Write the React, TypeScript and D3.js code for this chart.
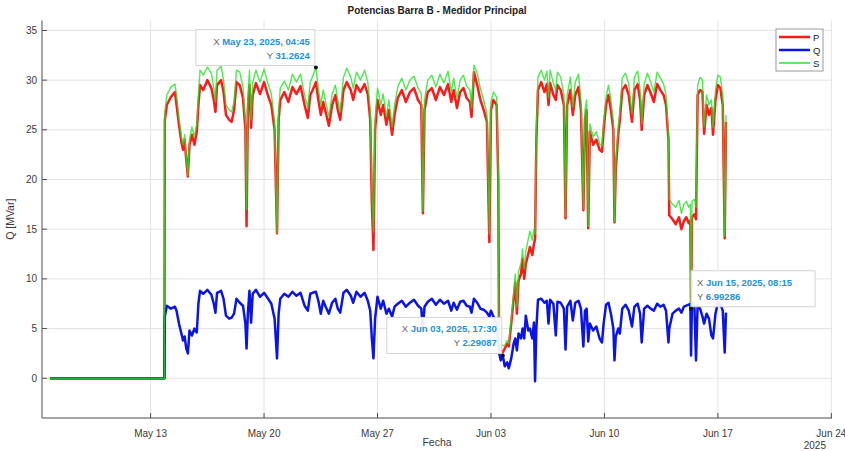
import React from "react";
import * as d3 from "d3";

// Time in days of May 2025 (Jun 1 = 32), values in MW / MVar / MVA
const times = [
  6.8, 13.85, 13.88, 14.0, 14.25, 14.5, 14.6, 14.75, 14.9, 15.0, 15.1, 15.2, 15.3, 15.4, 15.55, 15.7, 15.85, 15.95,
  16.05, 16.25, 16.5, 16.75, 16.9, 17.0, 17.1, 17.35, 17.5, 17.65, 17.85, 18.0, 18.15, 18.3, 18.5, 18.7, 18.85, 18.92,
  19.0, 19.1, 19.2, 19.3, 19.5, 19.75, 20.0, 20.25, 20.45, 20.65, 20.8, 20.9, 21.0, 21.25, 21.5, 21.75, 22.0, 22.25,
  22.5, 22.7, 22.85, 23.0, 23.198, 23.35, 23.5, 23.65, 23.8, 24.0, 24.2, 24.4, 24.55, 24.7, 24.9, 25.1, 25.35, 25.5,
  25.7, 25.95, 26.2, 26.4, 26.55, 26.65, 26.75, 26.85, 27.0, 27.2, 27.35, 27.55, 27.7, 27.9, 28.05, 28.25, 28.5, 28.75,
  29.0, 29.25, 29.5, 29.7, 29.8, 29.9, 30.1, 30.35, 30.6, 30.85, 31.1, 31.35, 31.55, 31.7, 31.9, 32.1, 32.3, 32.5,
  32.7, 32.8, 32.95, 33.15, 33.35, 33.55, 33.75, 33.9, 34.0, 34.15, 34.35, 34.45, 34.5, 34.6, 34.729, 34.85, 35.0, 35.1,
  35.25, 35.4, 35.5, 35.6, 35.7, 35.85, 35.95, 36.05, 36.15, 36.3, 36.4, 36.55, 36.65, 36.72, 36.8, 36.9, 37.1, 37.3,
  37.45, 37.55, 37.65, 37.85, 38.0, 38.1, 38.3, 38.5, 38.6, 38.7, 38.9, 39.05, 39.2, 39.4, 39.55, 39.7, 39.8, 39.9,
  40.0, 40.1, 40.3, 40.5, 40.7, 40.85, 40.95, 41.1, 41.25, 41.4, 41.55, 41.62, 41.7, 41.85, 41.95, 42.1, 42.3, 42.5,
  42.7, 42.85, 43.05, 43.2, 43.3, 43.45, 43.65, 43.85, 44.05, 44.25, 44.45, 44.65, 44.8, 44.95, 45.0, 45.2, 45.4, 45.6,
  45.75, 45.9, 46.05, 46.2, 46.3, 46.344, 46.4, 46.55, 46.65, 46.75, 46.9, 47.05, 47.15, 47.3, 47.45, 47.6, 47.7, 47.85,
  48.0, 48.15, 48.3, 48.42, 48.5,
];

const pValues = [
  0, 0, 26.0, 27.5, 28.3, 28.8, 27.5, 25.5, 23.8, 23.0, 24.0, 22.0, 20.3, 23.5, 24.5, 23.5, 24.8, 27.5,
  29.5, 29.0, 30.0, 29.2, 28.0, 26.8, 29.5, 30.0, 28.8, 26.5, 26.0, 25.8, 27.0, 29.8, 29.5, 28.2, 25.0, 15.3,
  27.0, 29.5, 25.2, 28.5, 29.7, 28.6, 29.8, 28.4, 27.5, 25.0, 14.6, 26.0, 28.0, 28.8, 27.8, 29.3, 28.6, 29.4,
  27.5, 26.2, 28.5, 29.0, 29.8, 28.0, 26.5, 27.8, 26.8, 25.4, 27.5, 28.5, 27.0, 26.0, 29.0, 29.8, 29.0, 28.0,
  29.5, 28.8, 29.6, 28.6, 26.0, 17.7, 12.9, 25.0, 28.0, 26.5, 27.5, 25.5, 27.0, 24.5, 26.5, 28.2, 29.0, 27.8,
  28.8, 29.2, 28.0, 27.5, 16.6, 27.0, 28.8, 29.2, 28.0, 29.3, 28.5, 29.6, 27.8, 29.0, 27.2, 28.8, 29.2, 28.2,
  27.8, 26.3, 30.8, 29.5, 28.0, 27.0, 25.8, 13.7, 27.0, 28.0, 27.5, 20.0, 3.3, 2.8, 2.6, 3.0, 3.5, 3.2,
  5.5, 8.0, 9.6, 6.5, 9.8, 10.5, 12.0, 10.0, 11.5, 12.5, 13.2, 12.4, 13.5, 14.0, 24.0, 29.0, 29.8, 28.8,
  29.6, 27.5, 29.7, 28.5, 28.0, 29.5, 29.0, 27.5, 16.1, 27.5, 29.0, 26.5, 28.5, 29.3, 27.0, 16.9, 26.0, 27.0,
  15.1, 24.8, 23.5, 24.0, 23.0, 22.8, 25.0, 27.5, 28.5, 27.0, 25.0, 15.7, 21.0, 24.5, 26.0, 29.0, 29.5, 28.5,
  25.8, 29.0, 29.6, 28.0, 25.0, 28.5, 29.5, 28.7, 27.8, 29.6, 29.0, 28.5, 27.5, 24.0, 16.4, 16.0, 15.5, 16.2,
  15.0, 15.8, 16.2, 15.6, 15.9, 7.0, 16.2, 16.5, 16.0, 28.5, 29.0, 28.8, 24.6, 27.5, 26.5, 27.2, 24.5, 28.0,
  29.5, 29.2, 27.5, 14.1, 25.8,
];

const qValues = [
  0, 0, 6.2, 7.3, 7.0, 7.2, 6.8, 5.5, 4.5, 3.8, 4.2, 3.0, 2.5, 4.8, 4.3, 5.0, 4.6, 7.5,
  8.8, 8.5, 8.9, 8.4, 7.5, 6.6, 8.6, 8.8, 8.0, 6.3, 6.0, 6.1, 6.5, 8.0, 7.6, 7.3, 5.5, 3.0,
  6.5, 8.8, 5.6, 8.5, 8.9, 8.2, 8.6, 8.0, 7.5, 6.0, 2.0, 6.5, 8.0, 8.5, 8.2, 8.7, 8.3, 8.6,
  7.3, 6.8, 8.5, 8.6, 8.7, 7.8, 6.5, 7.8, 7.2, 6.5, 7.6, 8.0, 7.0, 6.6, 8.6, 8.9, 8.3, 7.6,
  8.7, 8.2, 8.6, 7.8, 6.8, 4.0, 2.0, 6.0, 8.2, 7.0, 7.8, 6.5, 7.0, 6.2, 7.2, 7.5, 7.8, 7.2,
  7.6, 7.9, 7.3, 7.0, 5.0, 7.2, 7.7, 8.0, 7.4, 7.9, 7.5, 7.8, 6.8, 7.6, 6.9, 7.7, 7.8, 7.3,
  7.2, 6.6, 8.0, 7.6, 7.0, 6.9, 6.6, 6.2, 6.8, 6.2, 5.5, 3.5, 2.6, 1.8, 2.29087, 1.2, 1.6, 1.0,
  2.0, 3.5, 4.0, 2.8, 4.5, 4.0, 5.0, 4.0, 6.3, 4.8, 5.0, 4.0, 5.6, -0.3, 5.0, 7.9, 8.0, 7.6,
  7.8, 5.5, 7.9, 7.5, 4.3, 7.7, 7.6, 7.0, 2.9, 7.2, 7.8, 5.8, 7.6, 7.8, 7.0, 3.2, 6.8, 7.0,
  3.7, 5.5, 4.8, 5.2, 4.0, 3.6, 5.5, 7.4, 7.6, 6.5, 5.0, 1.8, 4.2, 5.0, 4.5, 7.0, 7.4, 6.8,
  5.2, 7.2, 7.5, 6.5, 3.6, 7.0, 7.3, 7.0, 6.8, 7.5, 7.2, 7.4, 6.8, 3.6, 5.0, 6.5, 6.8, 7.0,
  6.6, 7.2, 7.3, 7.4, 7.5, 2.3, 7.6, 7.3, 1.8, 7.4, 7.0, 6.2, 5.5, 6.5, 6.0, 4.3, 4.0, 6.5,
  7.6, 7.5, 6.8, 2.6, 6.6,
];

const sValues = [
  0, 0, 26.8, 28.5, 29.3, 29.6, 28.5, 26.2, 24.3, 23.5, 24.5, 22.3, 20.4, 24.0, 25.3, 24.3, 25.6, 28.5,
  31.0, 30.5, 31.3, 30.7, 29.2, 27.8, 31.0, 31.4, 30.0, 27.5, 27.0, 26.8, 27.8, 31.0, 30.8, 29.3, 25.8, 17.0,
  28.0, 31.0, 26.0, 29.8, 31.0, 29.8, 31.1, 29.6, 28.6, 25.8, 14.6, 27.0, 29.2, 29.9, 29.0, 30.6, 29.8, 30.6,
  28.5, 27.2, 29.8, 30.4, 31.2624, 29.2, 27.5, 29.0, 27.8, 26.3, 28.6, 29.5, 28.0, 26.8, 30.3, 31.2, 30.3, 29.2,
  30.8, 30.0, 31.0, 29.8, 27.0, 19.0, 14.7, 26.0, 29.2, 27.5, 28.6, 26.3, 28.0, 25.3, 27.5, 29.3, 30.2, 29.0,
  30.0, 30.4, 29.2, 28.6, 16.8, 28.0, 30.0, 30.5, 29.3, 30.6, 29.7, 30.9, 28.8, 30.2, 28.2, 30.0, 30.5, 29.4,
  29.0, 27.2, 31.5, 30.7, 29.1, 28.0, 26.6, 14.5, 27.8, 28.8, 28.3, 20.5, 3.8, 3.4, 3.3, 3.3, 3.8, 3.5,
  6.0, 8.6, 10.5, 7.2, 10.8, 11.5, 13.0, 11.0, 12.8, 14.0, 14.8, 13.9, 15.0, 14.5, 25.0, 30.3, 31.0, 30.0,
  30.9, 28.3, 31.0, 29.7, 29.0, 30.8, 30.3, 28.5, 16.3, 28.5, 30.3, 27.3, 29.8, 30.6, 28.0, 17.0, 27.0, 28.0,
  15.3, 25.6, 24.3, 24.8, 23.6, 23.4, 25.8, 28.3, 29.5, 28.0, 25.8, 15.8, 21.8, 25.3, 26.8, 30.2, 30.7, 29.6,
  26.6, 30.3, 30.9, 29.0, 25.6, 29.6, 30.7, 29.8, 28.8, 30.8, 30.2, 29.6, 28.5, 24.5, 18.0, 17.5, 17.2, 17.9,
  16.6, 17.5, 17.8, 17.2, 17.5, 6.99286, 17.8, 18.0, 17.2, 29.5, 30.3, 30.0, 25.3, 28.5, 27.5, 28.0, 25.2, 29.0,
  30.5, 30.3, 28.5, 14.3, 26.5,
];

const xTickDays = [13, 20, 27, 34, 41, 48, 55];
const yTicks = [0, 5, 10, 15, 20, 25, 30, 35];
const seriesNames = ["P", "Q", "S"];
const seriesColors = ["#ff1a1a", "#0a14e6", "#22e322"];
const seriesWidths = [2.5, 2.5, 1.4];

// datatips: [seriesIndex, time]
const tipSeries = [2, 1, 2];
const tipTimes = [23.198, 34.729, 46.344];
const tipLabels = ["May 23, 2025, 04:45", "Jun 03, 2025, 17:30", "Jun 15, 2025, 08:15"];
const tipValues = ["31.2624", "2.29087", "6.99286"];

const dayToDate = (d: number) => new Date(Date.UTC(2025, 4, 1) + (d - 1) * 86400000);

export default function App() {
  const W = 845, H = 451;
  const x = d3.scaleUtc().domain([dayToDate(6.3), dayToDate(55.04)]).range([42, 832]);
  const y = d3.scaleLinear().domain([-4, 36]).range([418, 20.5]);
  const font = "'Liberation Sans', Arial, Helvetica, sans-serif";
  const allSeries = [pValues, qValues, sValues];
  const line = (vals: number[]) =>
    d3.line<number>().x((_, i) => x(dayToDate(times[i]))).y((v) => y(v))(vals) || "";
  const fmt = d3.utcFormat("%b %d");
  const x0 = x.range()[0], x1 = x.range()[1];
  const yTop = y.range()[1], yBot = y.range()[0];

  return (
    <svg width={W} height={H} style={{ position: "absolute", left: 0, top: 0, background: "#fff" }} fontFamily={font}>
      <rect x={0} y={0} width={W} height={H} fill="#fff" />
      {/* grid */}
      {yTicks.map((t) => (
        <line key={"gy" + t} x1={x0} x2={x1} y1={y(t)} y2={y(t)} stroke="#e3e3e3" strokeWidth={1} />
      ))}
      {xTickDays.map((t) => (
        <line key={"gx" + t} x1={x(dayToDate(t))} x2={x(dayToDate(t))} y1={yTop} y2={yBot} stroke="#e3e3e3" strokeWidth={1} />
      ))}
      {/* axes */}
      <line x1={x0} x2={x0} y1={yTop} y2={yBot} stroke="#4d4d4d" strokeWidth={1} />
      <line x1={x0} x2={x1} y1={yBot} y2={yBot} stroke="#4d4d4d" strokeWidth={1} />
      {yTicks.map((t) => (
        <g key={"ty" + t}>
          <line x1={x0} x2={x0 + 5} y1={y(t)} y2={y(t)} stroke="#4d4d4d" />
          <text x={x0 - 5} y={y(t) + 3.5} fontSize={10} fill="#3a3a3a" textAnchor="end">{t}</text>
        </g>
      ))}
      {xTickDays.map((t) => (
        <g key={"tx" + t}>
          <line x1={x(dayToDate(t))} x2={x(dayToDate(t))} y1={yBot} y2={yBot - 5} stroke="#4d4d4d" />
          <text x={x(dayToDate(t))} y={437} fontSize={10} fill="#3a3a3a" textAnchor="middle">{fmt(dayToDate(t))}</text>
        </g>
      ))}
      <text x={(x0 + x1) / 2} y={446} fontSize={10.5} fill="#3a3a3a" textAnchor="middle">Fecha</text>
      <text x={826} y={449} fontSize={10} fill="#3a3a3a" textAnchor="end">2025</text>
      <text transform={`translate(14,${(yTop + yBot) / 2}) rotate(-90)`} fontSize={10.5} fill="#3a3a3a" textAnchor="middle">Q [MVar]</text>
      <text x={(x0 + x1) / 2} y={14} fontSize={10} fontWeight="bold" fill="#222" textAnchor="middle">Potencias Barra B - Medidor Principal</text>

      {/* series */}
      {allSeries.map((vals, i) => (
        <path key={"s" + i} d={line(vals)} fill="none" stroke={seriesColors[i]} strokeWidth={seriesWidths[i]}
          strokeLinejoin="round" opacity={i === 2 ? 0.8 : 1} />
      ))}

      {/* legend */}
      <rect x={776} y={29} width={47} height={42} fill="#fff" stroke="#9a9a9a" strokeWidth={1} />
      {seriesNames.map((n, i) => (
        <g key={"lg" + n}>
          <line x1={779} x2={810} y1={37 + i * 13} y2={37 + i * 13} stroke={seriesColors[i]} strokeWidth={seriesWidths[i]} />
          <text x={813} y={40.5 + i * 13} fontSize={9.5} fill="#222">{n}</text>
        </g>
      ))}

      {/* datatips */}
      {tipTimes.map((t, k) => {
        const mx = x(dayToDate(t));
        const idx = times.indexOf(t);
        const my = y(allSeries[tipSeries[k]][idx]);
        const bw = k === 2 ? 124 : k === 0 ? 119 : 115;
        const bh = 36;
        const left = k === 2;
        const bx = left ? mx : mx - bw - 1;
        const by = my - bh - 2;
        const tx = left ? bx + 6 : bx + bw - 5;
        const anchor = left ? "start" : "end";
        return (
          <g key={"tip" + k}>
            <rect x={bx} y={by} width={bw} height={bh} fill="#fff" fillOpacity={0.92} stroke="#d4d4d4" strokeWidth={1} />
            <text x={tx} y={by + 15} fontSize={9.5} textAnchor={anchor}>
              <tspan fill="#666">X </tspan>
              <tspan fill="#1e8fdc" fontWeight="bold">{tipLabels[k]}</tspan>
            </text>
            <text x={tx} y={by + 29} fontSize={9.5} textAnchor={anchor}>
              <tspan fill="#666">Y </tspan>
              <tspan fill="#1e8fdc" fontWeight="bold">{tipValues[k]}</tspan>
            </text>
            <circle cx={mx} cy={my} r={2} fill="#111" />
          </g>
        );
      })}
    </svg>
  );
}
